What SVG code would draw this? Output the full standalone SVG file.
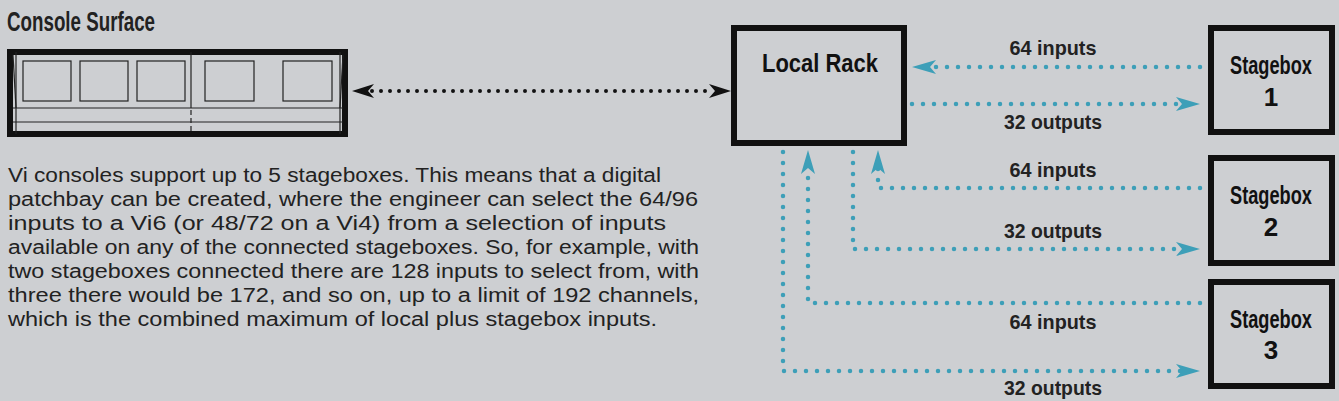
<svg xmlns="http://www.w3.org/2000/svg" width="1339" height="401" viewBox="0 0 1339 401">
<style>
.bg{fill:#cdcfd2}
.box{fill:none;stroke:#111;stroke-width:6}
.thin{fill:none;stroke:#222;stroke-width:1.2}
.lbl{font-family:"Liberation Sans",Arial,sans-serif;font-weight:bold;font-size:21px;fill:#222;text-anchor:middle}
.node{font-family:"Liberation Sans",Arial,sans-serif;font-weight:bold;font-size:26px;fill:#111;text-anchor:middle}
.para{font-family:"Liberation Sans",Arial,sans-serif;font-size:20px;fill:#222}
.blue{fill:none;stroke:#3d9fb8;stroke-width:4.5;stroke-linecap:round;stroke-dasharray:0 11}
.blk{fill:none;stroke:#111;stroke-width:4;stroke-linecap:round;stroke-dasharray:0 9}
</style>
<defs>
<marker id="ab" viewBox="0 0 24 14" refX="24" refY="7" markerWidth="24" markerHeight="14" markerUnits="userSpaceOnUse" orient="auto"><path d="M0,0 L24,7 L0,14 L6,7 Z" fill="#3d9fb8"/></marker>
<marker id="ak" viewBox="0 0 22 14" refX="22" refY="7" markerWidth="22" markerHeight="14" markerUnits="userSpaceOnUse" orient="auto-start-reverse"><path d="M0,0 L22,7 L0,14 L6,7 Z" fill="#111"/></marker>
</defs>
<rect class="bg" width="1339" height="401"/>
<g id="console">
<text x="7" y="31" font-family="Liberation Sans,Arial,sans-serif" font-weight="bold" font-size="27" fill="#222" textLength="148" lengthAdjust="spacingAndGlyphs">Console Surface</text>
<rect class="box" x="10" y="52" width="335" height="82"/>
<line class="thin" x1="16" y1="52" x2="16" y2="134"/>
<line class="thin" x1="340" y1="52" x2="340" y2="134"/>
<line class="thin" x1="13" y1="55" x2="16" y2="108"/>
<line class="thin" x1="343" y1="55" x2="340" y2="108"/>
<rect class="thin" x="23" y="61" width="48" height="40"/>
<rect class="thin" x="80" y="61" width="48" height="40"/>
<rect class="thin" x="137" y="61" width="48" height="40"/>
<rect class="thin" x="205" y="61" width="49" height="40"/>
<rect class="thin" x="283" y="61" width="49" height="40"/>
<line class="thin" x1="191" y1="52" x2="191" y2="108"/>
<line class="thin" x1="191" y1="110" x2="191" y2="134" stroke-dasharray="5 3"/>
<line class="thin" x1="13" y1="108" x2="343" y2="108"/>
<line class="thin" x1="13" y1="122" x2="343" y2="122"/>
</g>
<g id="text">
<text class="para" x="8" y="182" textLength="653" lengthAdjust="spacingAndGlyphs">Vi consoles support up to 5 stageboxes. This means that a digital</text>
<text class="para" x="8" y="206" textLength="690" lengthAdjust="spacingAndGlyphs">patchbay can be created, where the engineer can select the 64/96</text>
<text class="para" x="8" y="230" textLength="658" lengthAdjust="spacingAndGlyphs">inputs to a Vi6 (or 48/72 on a Vi4) from a selection of inputs</text>
<text class="para" x="8" y="254" textLength="691" lengthAdjust="spacingAndGlyphs">available on any of the connected stageboxes. So, for example, with</text>
<text class="para" x="8" y="278" textLength="691" lengthAdjust="spacingAndGlyphs">two stageboxes connected there are 128 inputs to select from, with</text>
<text class="para" x="8" y="302" textLength="691" lengthAdjust="spacingAndGlyphs">three there would be 172, and so on, up to a limit of 192 channels,</text>
<text class="para" x="8" y="326" textLength="649" lengthAdjust="spacingAndGlyphs">which is the combined maximum of local plus stagebox inputs.</text>
</g>
<g id="local-rack">
<rect class="box" x="734" y="28" width="170" height="115"/>
<text class="node" x="820" y="72" textLength="116" lengthAdjust="spacingAndGlyphs">Local Rack</text>
</g>
<g id="stagebox-1">
<rect class="box" x="1211" y="28" width="121" height="104"/>
<text class="node" x="1271" y="74" textLength="82" lengthAdjust="spacingAndGlyphs">Stagebox</text>
<text class="node" x="1271" y="106">1</text>
</g>
<g id="stagebox-2">
<rect class="box" x="1211" y="158" width="121" height="105"/>
<text class="node" x="1271" y="204" textLength="82" lengthAdjust="spacingAndGlyphs">Stagebox</text>
<text class="node" x="1271" y="236">2</text>
</g>
<g id="stagebox-3">
<rect class="box" x="1211" y="282" width="121" height="104"/>
<text class="node" x="1271" y="328" textLength="82" lengthAdjust="spacingAndGlyphs">Stagebox</text>
<text class="node" x="1271" y="359">3</text>
</g>
<g id="connectors">
<path class="blk" d="M372,91 L710,91"/>
<path d="M352,91 L731,91" fill="none" stroke="none" marker-start="url(#ak)" marker-end="url(#ak)"/>
<path class="blue" d="M1200,67 L928,67"/>
<path d="M926,67 L912,67" stroke="none" fill="none" marker-end="url(#ab)"/>
<path class="blue" d="M912,104 L1184,104"/>
<path d="M1185,104 L1200,104" stroke="none" fill="none" marker-end="url(#ab)"/>
<path class="blue" d="M1200,188 L878,188 L878,168"/>
<path d="M878,170 L878,150" stroke="none" fill="none" marker-end="url(#ab)"/>
<path class="blue" d="M853,152 L853,249 L1184,249"/>
<path d="M1185,249 L1200,249" stroke="none" fill="none" marker-end="url(#ab)"/>
<path class="blue" d="M1200,303 L808,303 L808,168"/>
<path d="M808,170 L808,150" stroke="none" fill="none" marker-end="url(#ab)"/>
<path class="blue" d="M783,152 L783,371 L1184,371"/>
<path d="M1185,371 L1200,371" stroke="none" fill="none" marker-end="url(#ab)"/>
<text class="lbl" x="1053" y="55" textLength="87" lengthAdjust="spacingAndGlyphs">64 inputs</text>
<text class="lbl" x="1053" y="129" textLength="98" lengthAdjust="spacingAndGlyphs">32 outputs</text>
<text class="lbl" x="1053" y="177" textLength="87" lengthAdjust="spacingAndGlyphs">64 inputs</text>
<text class="lbl" x="1053" y="238" textLength="98" lengthAdjust="spacingAndGlyphs">32 outputs</text>
<text class="lbl" x="1053" y="329" textLength="87" lengthAdjust="spacingAndGlyphs">64 inputs</text>
<text class="lbl" x="1053" y="395" textLength="98" lengthAdjust="spacingAndGlyphs">32 outputs</text>
</g>
</svg>
